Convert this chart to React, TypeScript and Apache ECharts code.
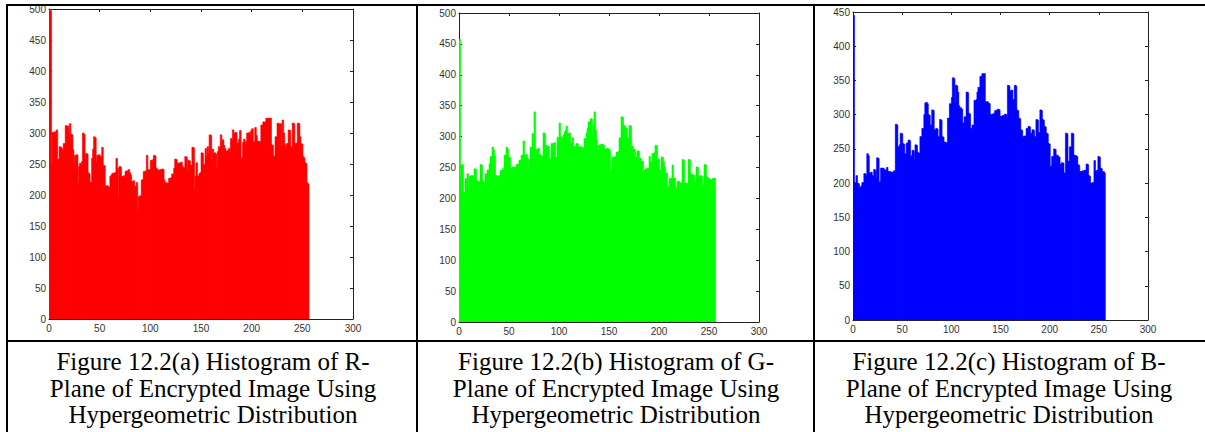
import React, { useEffect, useRef } from "react";
import * as echarts from "echarts";

// Histogram counts (256 bins, intensity 0..255)
const redCounts = [
  500, 497, 252, 301, 300, 302, 300, 305, 256, 258, 278, 277, 275, 272, 283, 282,
  312, 311, 311, 297, 315, 298, 297, 273, 251, 264, 263, 265, 219, 246, 251, 250,
  254, 300, 298, 256, 267, 266, 236, 234, 221, 220, 259, 274, 294, 292, 252, 264,
  263, 265, 262, 261, 277, 248, 247, 215, 214, 215, 213, 211, 230, 232, 235, 234,
  236, 235, 259, 243, 197, 246, 245, 230, 229, 231, 229, 238, 239, 237, 241, 236,
  232, 222, 221, 223, 213, 214, 220, 176, 198, 197, 199, 224, 225, 238, 237, 239,
  264, 240, 241, 240, 256, 254, 257, 264, 263, 243, 242, 240, 239, 241, 240, 242,
  241, 224, 219, 220, 218, 219, 227, 226, 228, 234, 233, 243, 258, 257, 251, 250,
  252, 251, 253, 246, 243, 244, 262, 261, 240, 256, 255, 248, 247, 277, 276, 209,
  230, 252, 230, 231, 235, 236, 268, 267, 248, 249, 275, 262, 278, 266, 297, 296,
  256, 274, 267, 268, 266, 243, 270, 278, 276, 297, 288, 289, 280, 275, 270, 271,
  272, 275, 268, 291, 288, 305, 299, 300, 301, 284, 283, 290, 304, 259, 260, 285,
  290, 282, 286, 300, 299, 301, 296, 304, 307, 286, 285, 309, 296, 286, 287, 285,
  286, 313, 312, 318, 317, 318, 324, 323, 324, 322, 324, 281, 280, 262, 263, 294,
  293, 316, 315, 314, 315, 278, 321, 300, 281, 275, 283, 282, 305, 304, 278, 277,
  316, 315, 283, 282, 284, 316, 315, 294, 283, 282, 262, 260, 252, 251, 220, 218,
];

const greenCounts = [
  457, 238, 255, 254, 208, 210, 232, 231, 240, 216, 236, 235, 237, 236, 234, 248,
  247, 229, 228, 227, 226, 255, 254, 229, 225, 226, 240, 239, 246, 245, 256, 268,
  265, 283, 278, 270, 236, 237, 236, 235, 237, 245, 244, 248, 247, 270, 269, 283,
  280, 267, 266, 248, 247, 251, 250, 251, 244, 255, 254, 256, 262, 261, 270, 269,
  293, 270, 269, 271, 264, 251, 262, 283, 280, 305, 278, 340, 279, 278, 280, 281,
  271, 270, 267, 268, 306, 305, 286, 285, 283, 284, 263, 264, 289, 288, 289, 290,
  267, 266, 299, 291, 322, 300, 290, 299, 302, 307, 310, 317, 305, 304, 306, 289,
  290, 298, 283, 284, 271, 289, 288, 283, 282, 284, 283, 280, 281, 297, 296, 306,
  313, 324, 323, 329, 328, 299, 320, 340, 310, 295, 285, 278, 287, 286, 288, 287,
  286, 280, 279, 280, 281, 279, 278, 245, 246, 267, 266, 267, 268, 275, 274, 276,
  298, 297, 332, 331, 318, 317, 313, 314, 298, 297, 318, 317, 283, 284, 278, 279,
  267, 266, 277, 276, 264, 265, 259, 260, 229, 245, 248, 247, 249, 248, 268, 259,
  258, 273, 272, 274, 286, 285, 264, 263, 245, 246, 267, 266, 259, 251, 240, 241,
  218, 219, 232, 231, 233, 254, 232, 233, 218, 217, 227, 228, 225, 224, 226, 263,
  262, 224, 225, 224, 223, 263, 262, 240, 239, 237, 238, 227, 226, 251, 250, 235,
  234, 237, 236, 221, 222, 255, 254, 235, 234, 232, 231, 229, 230, 232, 231, 233,
];

const blueCounts = [
  445, 201, 200, 211, 200, 199, 193, 194, 196, 201, 200, 214, 213, 210, 243, 240,
  215, 214, 216, 211, 210, 220, 219, 207, 237, 236, 201, 202, 222, 221, 222, 220,
  219, 218, 223, 217, 216, 217, 216, 215, 216, 218, 217, 286, 285, 253, 252, 256,
  273, 272, 258, 257, 243, 242, 258, 259, 263, 262, 239, 240, 248, 247, 234, 256,
  255, 245, 244, 243, 268, 267, 280, 279, 300, 317, 318, 316, 300, 299, 285, 284,
  307, 306, 278, 277, 280, 279, 268, 267, 293, 292, 268, 267, 259, 260, 259, 258,
  295, 294, 316, 315, 325, 354, 353, 316, 343, 342, 333, 313, 309, 310, 308, 288,
  287, 297, 296, 333, 332, 302, 301, 280, 279, 285, 284, 321, 320, 322, 333, 340,
  339, 356, 355, 360, 359, 360, 319, 318, 319, 317, 316, 300, 299, 301, 300, 302,
  306, 305, 307, 308, 307, 298, 297, 298, 299, 297, 301, 300, 295, 343, 342, 335,
  334, 336, 322, 321, 343, 342, 307, 306, 295, 294, 278, 277, 268, 267, 269, 268,
  280, 279, 283, 282, 273, 272, 278, 277, 268, 267, 293, 292, 274, 273, 307, 306,
  293, 292, 283, 282, 273, 272, 258, 257, 224, 225, 239, 238, 250, 249, 240, 241,
  239, 238, 227, 228, 230, 229, 214, 215, 273, 272, 232, 231, 253, 252, 273, 272,
  241, 240, 240, 239, 227, 226, 217, 216, 217, 218, 217, 219, 218, 228, 227, 211,
  210, 200, 199, 201, 200, 233, 217, 218, 219, 239, 238, 222, 221, 216, 217, 215,
];

const xMax = 300;
const xTickStep = 50;
const yTickStep = 50;
const yMaxes = [500, 500, 450];
const panelColors = ["#ff0000", "#00ff00", "#0000ff"];

const captions = [
  ["Figure 12.2(a) Histogram of R-", "Plane of Encrypted Image Using", "Hypergeometric Distribution"],
  ["Figure 12.2(b) Histogram of G-", "Plane of Encrypted Image Using", "Hypergeometric Distribution"],
  ["Figure 12.2(c) Histogram of B-", "Plane of Encrypted Image Using", "Hypergeometric Distribution"],
];

// layout (pixels)
const grids = [
  { left: 49, top: 9, width: 304, height: 310 },
  { left: 459, top: 13, width: 300, height: 309 },
  { left: 853, top: 12, width: 295, height: 308 },
];
const colCenters = [213, 616, 1009];
const tableV = [7, 417, 814];
const tableTop = 5;
const captionLine = 341;
const captionY = [361, 388, 414];

export default function App() {
  const ref = useRef<HTMLDivElement>(null);

  useEffect(() => {
    document.body.style.margin = "0";
    const el = ref.current;
    if (!el) return;
    const chart = echarts.init(el, null, { renderer: "svg" });

    const allCounts = [redCounts, greenCounts, blueCounts];
    const axisColor = "#222";
    const labelStyle = {
      fontFamily: "Liberation Sans, Arial, sans-serif",
      fontSize: 10,
      color: "#333",
    };

    const xAxes: any[] = [];
    const yAxes: any[] = [];
    const series: any[] = [];

    allCounts.forEach((counts, k) => {
      const base = {
        gridIndex: k,
        type: "value",
        min: 0,
        max: xMax,
        interval: xTickStep,
        splitLine: { show: false },
        axisLine: { show: true, onZero: false, lineStyle: { color: axisColor, width: 1 } },
        axisTick: { show: true, inside: true, length: 3, lineStyle: { color: "#222" } },
      };
      xAxes.push({
        ...base,
        position: "bottom",
        axisLabel: { ...labelStyle, margin: 4 },
      });
      xAxes.push({
        ...base,
        position: "top",
        axisLabel: { show: false },
      });
      const ybase = {
        gridIndex: k,
        type: "value",
        min: 0,
        max: yMaxes[k],
        interval: yTickStep,
        splitLine: { show: false },
        axisLine: { show: true, onZero: false, lineStyle: { color: axisColor, width: 1 } },
        axisTick: { show: true, inside: true, length: 3, lineStyle: { color: "#222" } },
      };
      yAxes.push({
        ...ybase,
        position: "left",
        axisLabel: { ...labelStyle, margin: 3 },
      });
      yAxes.push({
        ...ybase,
        position: "right",
        axisLabel: { show: false },
      });

      const color = panelColors[k];
      series.push({
        type: "custom",
        xAxisIndex: k * 2,
        yAxisIndex: k * 2,
        clip: true,
        data: counts.map((v, i) => [i, v]),
        encode: { x: 0, y: 1 },
        renderItem: (params: any, api: any) => {
          const i = api.value(0);
          const v = api.value(1);
          const p0 = api.coord([i, 0]);
          const p1 = api.coord([i + 1, v]);
          return {
            type: "rect",
            shape: {
              x: p0[0],
              y: p1[1],
              width: p1[0] - p0[0] + 0.6,
              height: p0[1] - p1[1],
            },
            style: { fill: color, stroke: color, lineWidth: 0.6 },
          };
        },
        z: 2,
      });
    });

    const graphics: any[] = [];
    // table lines
    graphics.push({
      type: "line",
      shape: { x1: tableV[0] - 1, y1: tableTop, x2: 1205, y2: tableTop },
      style: { stroke: "#000", lineWidth: 2 },
      z: 10,
    });
    graphics.push({
      type: "line",
      shape: { x1: tableV[0] - 1, y1: captionLine, x2: 1205, y2: captionLine },
      style: { stroke: "#000", lineWidth: 2 },
      z: 10,
    });
    tableV.forEach((x) => {
      graphics.push({
        type: "line",
        shape: { x1: x, y1: tableTop - 1, x2: x, y2: 432 },
        style: { stroke: "#000", lineWidth: 2 },
        z: 10,
      });
    });
    captions.forEach((lines, k) => {
      lines.forEach((t, j) => {
        graphics.push({
          type: "text",
          x: colCenters[k],
          y: captionY[j],
          style: {
            text: t,
            fontFamily: "'Liberation Serif', 'Times New Roman', serif",
            fontSize: 25,
            fill: "#000",
            align: "center",
            verticalAlign: "middle",
          },
          z: 10,
        });
      });
    });

    chart.setOption({
      animation: false,
      backgroundColor: "#fff",
      grid: grids.map((g) => ({ ...g, containLabel: false })),
      xAxis: xAxes,
      yAxis: yAxes,
      series,
      graphic: graphics,
    });

    return () => chart.dispose();
  }, []);

  return (
    <div
      ref={ref}
      style={{ position: "absolute", left: 0, top: 0, width: 1205, height: 432 }}
    />
  );
}
